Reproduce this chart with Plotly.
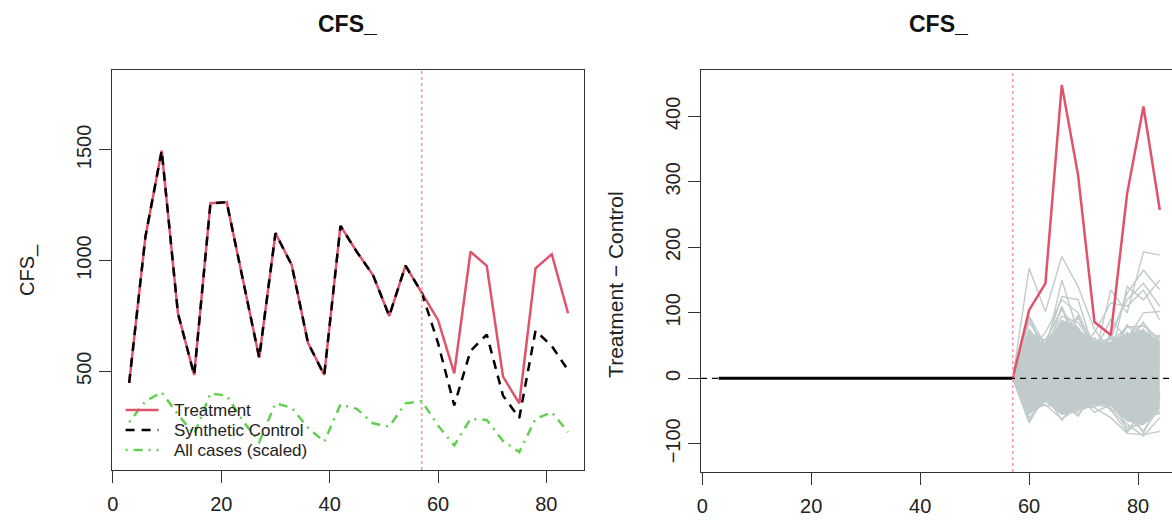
import plotly.graph_objects as go

# ---------------- data ----------------
periods = [3, 6, 9, 12, 15, 18, 21, 24, 27, 30, 33, 36, 39, 42, 45, 48, 51, 54, 57,
           60, 63, 66, 69, 72, 75, 78, 81, 84]
treatment = [448, 1108, 1497, 762, 483, 1259, 1264, 915, 561, 1124, 980, 629, 483, 1157,
             1040, 935, 750, 977, 855, 732, 491, 1040, 976, 476, 355, 965, 1029, 762]
synthetic = [448, 1108, 1497, 762, 483, 1259, 1264, 915, 561, 1124, 980, 629, 483, 1157,
             1040, 935, 750, 977, 855, 628, 346, 592, 666, 390, 289, 683, 614, 505]
all_cases_scaled = [270, 365, 405, 305, 215, 400, 390, 275, 180, 355, 335, 245, 182, 350,
                    330, 265, 250, 355, 365, 255, 165, 285, 280, 185, 135, 285, 315, 225]
treatment_period = 57

pre_periods = [3, 6, 9, 12, 15, 18, 21, 24, 27, 30, 33, 36, 39, 42, 45, 48, 51, 54, 57]
pre_gap = [0] * 19
post_periods = [57, 60, 63, 66, 69, 72, 75, 78, 81, 84]
post_gap = [0, 104, 145, 448, 310, 86, 66, 282, 415, 257]

# dense core of the placebo gaps
placebo_upper = [0, 72, 50, 88, 75, 55, 55, 68, 74, 55]
placebo_lower = [0, -55, -35, -55, -48, -38, -42, -65, -70, -45]
# individual placebo gap series
placebos = [
    [0, 92, 35, 110, 50, 62, 40, 82, 50, 66],
    [0, 40, 60, 70, 95, 35, 66, 50, 86, 40],
    [0, 85, 50, 95, 85, 50, 55, 78, 80, 60],
    [0, 70, 58, 105, 70, 60, 30, 80, 70, 64],
    [0, 55, 45, 60, 92, 55, 60, 65, 84, 55],
    [0, 95, 30, 80, 60, 40, 64, 40, 75, 30],
    [0, 30, 55, 108, 40, 58, 35, 70, 40, 62],
    [0, 75, 42, 88, 78, 30, 50, 60, 66, 50],
    [0, -68, -25, -64, -30, -45, -20, -80, -50, -55],
    [0, -30, -42, -40, -58, -20, -50, -45, -84, -30],
    [0, -60, -35, -55, -50, -40, -45, -75, -70, -50],
    [0, -50, -40, -62, -45, -44, -30, -60, -80, -45],
    [0, -65, -20, -30, -55, -25, -48, -82, -60, -52],
    [0, 40, -30, 50, -40, 30, -30, 40, -50, 20],
    [0, -30, 40, -40, 50, -20, 40, -50, 60, -30],
    [0, 168, 102, 186, 140, 75, 40, 60, 30, 20],
    [0, 60, 40, 150, 70, 30, 135, 100, 193, 188],
    [0, 40, 70, 120, 100, 45, 60, 130, 165, 135],
    [0, 95, 50, 125, 120, 40, 90, 60, 100, 102],
    [0, 20, 30, 60, 40, 70, 115, 110, 135, 89],
    [0, 50, 20, 70, 30, 10, 30, 140, 120, 150],
    [0, 10, 25, 40, 30, 20, 70, 120, 145, 110],
    [0, -40, -20, -50, -30, -45, -60, -84, -86, -81],
    [0, -20, -30, -35, -25, -52, -40, -70, -88, -60],
]

x_ticks = [0, 20, 40, 60, 80]
left_y_ticks = [500, 1000, 1500]
right_y_ticks = [-100, 0, 100, 200, 300, 400]

# ---------------- styling ----------------
W, H = 1172, 524
RED = "#DF536B"
GREEN = "#61D04F"
GRAY = "#C1CBCB"
PINK = "#F29AAE"
AX = "#333333"
FONT = "Liberation Sans, Arial, sans-serif"


def fx(p):
    return p / W


def fy(p):
    return 1 - p / H


fig = go.Figure()

# left panel
fig.add_trace(go.Scatter(x=periods, y=all_cases_scaled, mode="lines", xaxis="x", yaxis="y",
                         line=dict(color=GREEN, width=2.5, dash="2px,6px,9px,6px"),
                         showlegend=False))
fig.add_trace(go.Scatter(x=periods, y=treatment, mode="lines", xaxis="x", yaxis="y",
                         line=dict(color=RED, width=2.5), showlegend=False))
fig.add_trace(go.Scatter(x=periods, y=synthetic, mode="lines", xaxis="x", yaxis="y",
                         line=dict(color="black", width=2.5, dash="9px,7px"),
                         showlegend=False))

# right panel: placebo band + lines
fig.add_trace(go.Scatter(x=post_periods, y=placebo_lower, mode="lines", xaxis="x2", yaxis="y2",
                         line=dict(color=GRAY, width=1), showlegend=False))
fig.add_trace(go.Scatter(x=post_periods, y=placebo_upper, mode="lines", xaxis="x2", yaxis="y2",
                         line=dict(color=GRAY, width=1), fill="tonexty", fillcolor=GRAY,
                         showlegend=False))
for p in placebos:
    fig.add_trace(go.Scatter(x=post_periods, y=p, mode="lines", xaxis="x2", yaxis="y2",
                             line=dict(color=GRAY, width=1.4), showlegend=False))
fig.add_trace(go.Scatter(x=pre_periods, y=pre_gap, mode="lines", xaxis="x2", yaxis="y2",
                         line=dict(color="black", width=3), showlegend=False))
fig.add_trace(go.Scatter(x=post_periods, y=post_gap, mode="lines", xaxis="x2", yaxis="y2",
                         line=dict(color=RED, width=2.5), showlegend=False))

# vertical treatment lines
for xr, yr in (("x", "y domain"), ("x2", "y2 domain")):
    fig.add_shape(type="line", xref=xr, yref=yr, x0=treatment_period, x1=treatment_period,
                  y0=0, y1=1, line=dict(color=PINK, width=1.6, dash="3px,3px"))
# zero dashed line on right panel
fig.add_shape(type="line", xref="x2 domain", yref="y2", x0=0, x1=1, y0=0, y1=0,
              line=dict(color="black", width=1.2, dash="6px,5px"))

# manual legend (left panel)
leg_items = [
    ("Treatment", RED, "solid", 410),
    ("Synthetic Control", "black", "9px,7px", 430),
    ("All cases (scaled)", GREEN, "2px,6px,9px,6px", 450),
]
for label, col, dash, ypx in leg_items:
    fig.add_shape(type="line", xref="paper", yref="paper", x0=fx(122), x1=fx(155),
                  y0=fy(ypx), y1=fy(ypx), line=dict(color=col, width=2.5, dash=dash))
    fig.add_annotation(text=label, xref="paper", yref="paper", x=fx(169), y=fy(ypx),
                       xanchor="left", yanchor="middle", showarrow=False,
                       font=dict(family=FONT, size=17, color="#222"))

# titles
for cx in (345, 938):
    fig.add_annotation(text="<b>CFS_</b>", xref="paper", yref="paper", x=fx(cx), y=fy(24),
                       xanchor="center", yanchor="middle", showarrow=False,
                       font=dict(family=FONT, size=23, color="#111"))
fig.add_annotation(text="CFS_", xref="paper", yref="paper", x=fx(23), y=fy(270),
                   textangle=-90, xanchor="center", yanchor="middle", showarrow=False,
                   font=dict(family=FONT, size=20, color="#222"))
fig.add_annotation(text="Treatment − Control", xref="paper", yref="paper", x=fx(613), y=fy(284),
                   textangle=-90, xanchor="center", yanchor="middle", showarrow=False,
                   font=dict(family=FONT, size=21, color="#222"))

axis_common = dict(showgrid=False, zeroline=False, showline=True, linecolor=AX, linewidth=1.2,
                   ticks="outside", ticklen=12, tickwidth=1.2, tickcolor=AX,
                   tickfont=dict(family=FONT, size=20, color="#222"))

fig.update_layout(
    width=W, height=H, margin=dict(l=0, r=0, t=0, b=0),
    paper_bgcolor="white", plot_bgcolor="white", showlegend=False,
    xaxis=dict(domain=[fx(108), fx(582)], range=[-0.24, 86.95], tickvals=x_ticks,
               mirror=True, anchor="y", ticklabelstandoff=4, **axis_common),
    yaxis=dict(domain=[fy(470), fy(70)], range=[54, 1861], tickvals=left_y_ticks,
               tickangle=-90, mirror=True, anchor="x", **axis_common),
    xaxis2=dict(domain=[fx(699.4), 1.0], range=[-0.24, 86.24], tickvals=x_ticks,
                mirror=True, anchor="y2", ticklabelstandoff=4, **axis_common),
    yaxis2=dict(domain=[fy(472), fy(70)], range=[-143, 470.7], tickvals=right_y_ticks,
                tickangle=-90, mirror=False, anchor="x2", **axis_common),
)

fig.write_html("out.html")
